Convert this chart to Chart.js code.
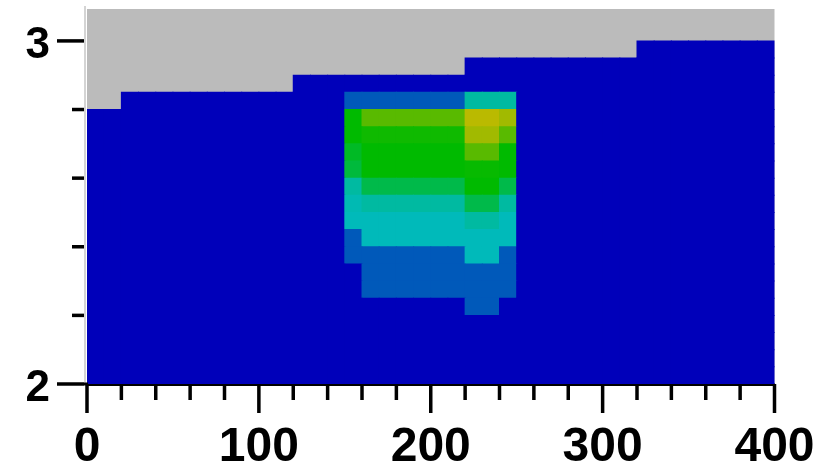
<!DOCTYPE html>
<html>
<head>
<meta charset="utf-8">
<script src="https://cdn.jsdelivr.net/npm/chart.js@4.4.1/dist/chart.umd.min.js"></script>
<style>
html,body{margin:0;padding:0;background:#ffffff;}
#wrap{width:836px;height:467px;}
</style>
</head>
<body>
<div id="wrap"><canvas id="c" width="836" height="467"></canvas></div>
<script>
// ---- data ----
const colEdges = [0,10,20,30,40,50,60,70,80,90,100,110,120,130,140,150,160,170,180,190,200,
                  210,220,230,240,250,260,270,280,290,300,310,320,330,340,350,360,370,380,390,400];
const rowEdges = [2.00,2.05,2.10,2.15,2.20,2.25,2.30,2.35,2.40,2.45,2.50,2.55,
                  2.60,2.65,2.70,2.75,2.80,2.85,2.90,2.95,3.00,3.05,3.10];
// upper limit of valid data in each column (above: no data, grey)
const dataTop = [2.80,2.80,
                 2.85,2.85,2.85,2.85,2.85,2.85,2.85,2.85,2.85,2.85,
                 2.90,2.90,2.90,2.90,2.90,2.90,2.90,2.90,2.90,2.90,
                 2.95,2.95,2.95,2.95,2.95,2.95,2.95,2.95,2.95,2.95,
                 3.00,3.00,3.00,3.00,3.00,3.00,3.00,3.00];
const backgroundValue = 0;
// anomaly patch: columns (left edge) and rows (bottom edge)
const patchCols = [150,160,170,180,190,200,210,220,230,240];
const patchRows = [2.80,2.75,2.70,2.65,2.60,2.55,2.50,2.45,2.40,2.35,2.30,2.25,2.20];
const patchValues = [
  [0.12,0.12,0.12,0.12,0.12,0.12,0.12,0.283,0.283,0.283],
  [0.50,0.62,0.62,0.62,0.62,0.62,0.62,0.75,0.75,0.717],
  [0.50,0.52,0.52,0.52,0.52,0.52,0.52,0.717,0.717,0.62],
  [0.45,0.50,0.50,0.50,0.50,0.50,0.50,0.62,0.62,0.50],
  [0.42,0.50,0.50,0.50,0.50,0.50,0.50,0.51,0.51,0.50],
  [0.283,0.40,0.40,0.40,0.40,0.40,0.40,0.50,0.50,0.40],
  [0.26,0.283,0.283,0.283,0.283,0.283,0.283,0.40,0.40,0.283],
  [0.25,0.25,0.25,0.25,0.25,0.25,0.25,0.283,0.283,0.25],
  [0.12,0.25,0.25,0.25,0.25,0.25,0.25,0.25,0.25,0.25],
  [0.12,0.12,0.12,0.12,0.12,0.12,0.12,0.25,0.25,0.12],
  [0,0.12,0.12,0.12,0.12,0.12,0.12,0.12,0.12,0.12],
  [0,0.12,0.12,0.12,0.12,0.12,0.12,0.12,0.12,0.12],
  [0,0,0,0,0,0,0,0.12,0.12,0]
];
const xLabelTicks = [0,100,200,300,400];
const yLabelTicks = [2,3];

// ---- colour map ----
const cmapStops = [
  [0.00,[0,0,186]],
  [0.25,[0,186,186]],
  [0.50,[0,186,0]],
  [0.75,[186,186,0]],
  [1.00,[186,0,0]]
];
function cmap(v){
  v = Math.max(0, Math.min(1, v));
  for (let i = 0; i < cmapStops.length - 1; i++) {
    const [a, ca] = cmapStops[i], [b, cb] = cmapStops[i+1];
    if (v <= b + 1e-12) {
      const t = (v - a) / (b - a);
      const c = ca.map((x, k) => Math.round(x + (cb[k] - x) * t));
      return 'rgb(' + c.join(',') + ')';
    }
  }
  return 'rgb(186,0,0)';
}

function cellValue(ci, ri){
  const x0 = colEdges[ci], y0 = rowEdges[ri];
  if (y0 >= dataTop[ci] - 1e-9) return null;
  const pc = patchCols.indexOf(x0);
  const pr = patchRows.findIndex(y => Math.abs(y - y0) < 1e-9);
  if (pc >= 0 && pr >= 0) return patchValues[pr][pc];
  return backgroundValue;
}

const datasets = [];
for (let ri = 0; ri < rowEdges.length - 1; ri++) {
  const pts = [];
  for (let ci = 0; ci < colEdges.length - 1; ci++) {
    const v = cellValue(ci, ri);
    if (v === null) continue;
    pts.push({x: (colEdges[ci] + colEdges[ci+1]) / 2, y: [rowEdges[ri], rowEdges[ri+1]], v: v});
  }
  datasets.push({
    data: pts,
    stack: 'grid',
    grouped: false,
    barPercentage: 1,
    categoryPercentage: 1,
    borderWidth: 0,
    inflateAmount: 0.5,
    backgroundColor: ctx => (ctx.raw ? cmap(ctx.raw.v) : 'rgba(0,0,0,0)')
  });
}

const isInt = v => Math.abs(v - Math.round(v)) < 1e-6;

const axisDecor = {
  id: 'axisDecor',
  beforeDatasetsDraw(chart){
    const {ctx, chartArea: a} = chart;
    ctx.save();
    ctx.fillStyle = '#bbbbbb';
    ctx.fillRect(a.left, a.top, a.right - a.left, a.bottom - a.top);
    ctx.restore();
  },
  afterDraw(chart){
    const {ctx, chartArea: a, scales} = chart;
    ctx.save();
    // light y-axis line
    ctx.strokeStyle = '#d4d4d4';
    ctx.lineWidth = 2;
    ctx.beginPath();
    ctx.moveTo(a.left - 2, a.top - 3);
    ctx.lineTo(a.left - 2, a.bottom);
    ctx.stroke();
    ctx.strokeStyle = '#000';
    ctx.lineWidth = 3;
    ctx.beginPath();
    ctx.moveTo(a.left - 3, a.bottom);
    ctx.lineTo(a.left + 1, a.bottom);
    ctx.stroke();
    ctx.lineWidth = 3.5;
    // x ticks
    scales.x.ticks.forEach(t => {
      const px = scales.x.getPixelForValue(t.value);
      const major = xLabelTicks.some(v => Math.abs(v - t.value) < 1e-6);
      ctx.beginPath();
      ctx.moveTo(px, a.bottom);
      ctx.lineTo(px, a.bottom + (major ? 29 : 16));
      ctx.stroke();
    });
    // y ticks
    scales.y.ticks.forEach(t => {
      const py = scales.y.getPixelForValue(t.value);
      const major = yLabelTicks.some(v => Math.abs(v - t.value) < 1e-6);
      ctx.beginPath();
      ctx.moveTo(a.left - (major ? 30 : 15), py);
      ctx.lineTo(a.left - 3, py);
      ctx.stroke();
    });
    ctx.restore();
  }
};

function zeroPad(s){ s.paddingTop = 0; s.paddingBottom = 0; s.paddingLeft = 0; s.paddingRight = 0; }

new Chart(document.getElementById('c'), {
  type: 'bar',
  data: {datasets: datasets},
  options: {
    responsive: false,
    devicePixelRatio: 1,
    animation: false,
    layout: {padding: {top: 9, right: 61.5, bottom: 0, left: 0}},
    plugins: {legend: {display: false}, tooltip: {enabled: false}},
    scales: {
      x: {
        type: 'linear', min: 0, max: 400, offset: false,
        grid: {display: false, drawTicks: false},
        border: {display: true, color: '#000', width: 3},
        ticks: {
          stepSize: 20, autoSkip: false, maxRotation: 0, minRotation: 0, padding: 35,
          color: '#000',
          font: {family: '"Liberation Sans", Arial, sans-serif', size: 48, weight: 'bold'},
          callback: v => xLabelTicks.some(t => Math.abs(t - v) < 1e-6) ? String(Math.round(v)) : ''
        },
        afterFit: s => { s.height = 83; zeroPad(s); }
      },
      y: {
        type: 'linear', min: 2, max: 3.093, stacked: false,
        grid: {display: false, drawTicks: false},
        border: {display: false},
        ticks: {
          stepSize: 0.2, includeBounds: false, autoSkip: false, padding: 37, labelOffset: 5,
          color: '#000',
          font: {family: '"Liberation Sans", Arial, sans-serif', size: 44, weight: 'bold'},
          callback: v => isInt(v) ? String(Math.round(v)) : ''
        },
        afterFit: s => { s.width = 87; zeroPad(s); }
      }
    }
  },
  plugins: [axisDecor]
});
</script>
</body>
</html>
